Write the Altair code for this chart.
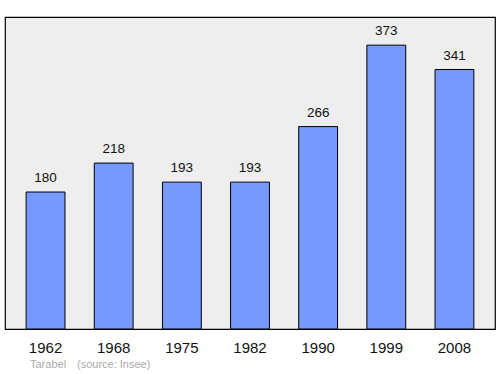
import altair as alt
import pandas as pd

years = ["1962", "1968", "1975", "1982", "1990", "1999", "2008"]
population = [180, 218, 193, 193, 266, 373, 341]
town = "Tarabel"
source = "(source: Insee)"

FONT = "Liberation Sans"
df = pd.DataFrame({"year": years, "pop": population})

x = alt.X("year:O", sort=years, title=None,
          scale=alt.Scale(paddingInner=0.43, paddingOuter=0.31),
          axis=alt.Axis(labelAngle=0, labelFontSize=15, labelColor="#111111",
                        labelFont=FONT, ticks=False, domain=False,
                        labelPadding=11))
y = alt.Y("pop:Q", title=None, scale=alt.Scale(domain=[0, 410], nice=False),
          axis=None)

bars = alt.Chart(df).mark_bar(color="#7799ff", stroke="#000000",
                               strokeWidth=1).encode(x=x, y=y)
labels = alt.Chart(df).mark_text(baseline="bottom", dy=-7, fontSize=13.5,
                                 font=FONT, color="#111111").encode(
    x=x, y=y, text="pop:Q")

src1 = alt.Chart(pd.DataFrame({"t": [town]})).mark_text(
    align="left", baseline="middle", fontSize=11, font=FONT,
    color="#aaaaaa").encode(x=alt.value(25), y=alt.value(348), text="t:N")
src2 = alt.Chart(pd.DataFrame({"t": [source]})).mark_text(
    align="left", baseline="middle", fontSize=11, font=FONT,
    color="#aaaaaa").encode(x=alt.value(72), y=alt.value(348), text="t:N")

chart = alt.layer(bars, labels, src1, src2).properties(
    width=490, height=312,
    autosize=alt.AutoSizeParams(type="none"),
    padding={"left": 5, "top": 17, "right": 5, "bottom": 45},
    background="#ffffff",
).configure_view(fill="#eeeeee", stroke="#000000", strokeWidth=1.2)

chart.save("out.html", embed_options={"renderer": "svg", "actions": False})
